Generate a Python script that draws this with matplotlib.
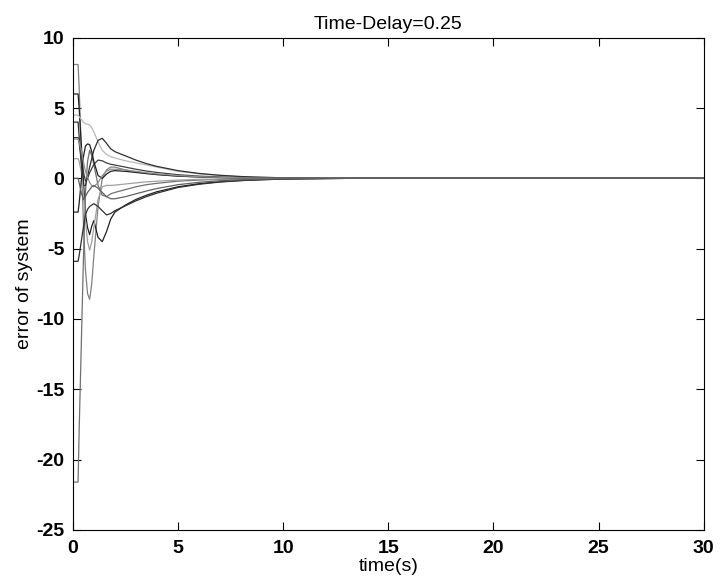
# -*- coding: utf-8 -*-
import matplotlib
matplotlib.use('Agg')
import matplotlib.pyplot as plt

plt.rcParams['font.family'] = ['Liberation Sans', 'DejaVu Sans']
plt.rcParams['axes.unicode_minus'] = False

# sample times (s)
t = [0, 0.25, 0.3, 0.4, 0.5, 0.6, 0.7, 0.8, 0.9, 1.0, 1.2, 1.4, 1.6, 1.8, 2.0, 2.5,
     3.0, 3.5, 4, 5, 6, 7, 8, 9, 10, 11, 13, 30]

# error trajectories
e1 = [8.1, 8.1, 6.5, 2.0, -3.0, -6.5, -8.2, -8.6, -7.5, -5.5, -2.0, 0.0, 0.6, 0.8, 0.8, 0.6,
      0.45, 0.35, 0.27, 0.16, 0.1, 0.06, 0.04, 0.02, 0.01, 0, 0, 0]
e2 = [6.0, 6.0, 5.0, 2.5, 0.0, -2.5, -3.5, -4.0, -3.4, -3.0, -4.2, -4.5, -3.8, -2.9, -2.4, -1.9,
      -1.5, -1.2, -0.95, -0.6, -0.38, -0.24, -0.15, -0.09, -0.05, -0.03, 0, 0]
e3 = [-21.6, -21.6, -18, -12, -6, -1, 1.2, 2.0, 1.6, 1.0, -0.5, -1.2, -1.3, -1.1, -1.0, -0.8,
      -0.6, -0.45, -0.35, -0.2, -0.12, -0.07, -0.04, -0.02, -0.01, 0, 0, 0]
e4 = [4.5, 4.5, 4.4, 4.2, 4.0, 3.9, 3.85, 3.8, 3.6, 3.3, 2.6, 2.0, 1.7, 1.55, 1.45, 1.25,
      1.1, 0.95, 0.8, 0.5, 0.32, 0.2, 0.12, 0.07, 0.04, 0.02, 0, 0]
e5 = [4.0, 4.0, 3.0, 1.0, -0.5, -0.5, 0.1, 0.8, 1.4, 2.0, 2.7, 2.85, 2.5, 2.1, 1.9, 1.6,
      1.3, 1.05, 0.85, 0.55, 0.35, 0.22, 0.13, 0.08, 0.04, 0.02, 0, 0]
e6 = [2.9, 2.9, 2.5, 1.5, 0.5, -0.2, 0.0, 0.4, 0.7, 1.0, 1.3, 1.25, 1.1, 1.0, 0.95, 0.8,
      0.65, 0.52, 0.42, 0.26, 0.16, 0.1, 0.06, 0.03, 0.02, 0.01, 0, 0]
e7 = [1.4, 1.4, 1.2, 0.5, -1.0, -3.0, -4.5, -5.1, -4.5, -3.5, -1.5, -0.6, -0.5, -0.5, -0.48, -0.4,
      -0.32, -0.25, -0.2, -0.12, -0.07, -0.04, -0.02, -0.01, 0, 0, 0, 0]
e8 = [-2.4, -2.4, -1.8, -0.2, 1.5, 2.3, 2.45, 2.4, 1.9, 1.2, 0.2, 0.0, 0.3, 0.5, 0.55, 0.5,
      0.42, 0.34, 0.27, 0.16, 0.1, 0.06, 0.03, 0.02, 0.01, 0, 0, 0]
e9 = [-5.9, -5.9, -5.5, -4.5, -3.5, -2.6, -2.2, -2.0, -1.9, -1.8, -2.0, -2.3, -2.6, -2.5, -2.3, -1.95,
      -1.6, -1.3, -1.05, -0.65, -0.42, -0.26, -0.16, -0.1, -0.05, -0.03, 0, 0]
e10 = [2.8, 2.8, 2.6, 2.0, 1.2, 0.5, 0.1, -0.3, -0.5, -0.6, -0.3, 0.2, 0.5, 0.65, 0.65, 0.6,
       0.5, 0.4, 0.32, 0.2, 0.12, 0.07, 0.04, 0.02, 0.01, 0, 0, 0]
e11 = [0, 0, -0.3, -1.0, -1.5, -1.3, -1.0, -0.8, -0.6, -0.5, -0.7, -1.0, -1.3, -1.45, -1.45, -1.3,
       -1.1, -0.9, -0.72, -0.45, -0.28, -0.17, -0.1, -0.06, -0.03, -0.02, 0, 0]

curves = [e1, e2, e3, e4, e5, e6, e7, e8, e9, e10, e11]
shades = ['#808080', '#202020', '#707070', '#b8b8b8', '#303030', '#404040',
          '#a0a0a0', '#202020', '#303030', '#909090', '#606060']

fig = plt.figure(figsize=(7.21, 5.81), dpi=100)
ax = fig.add_axes([0.101, 0.088, 0.875, 0.847])

for e, c in zip(curves, shades):
    ax.plot(t, e, '-', color=c, lw=0.9)

ax.set_xlim(0, 30)
ax.set_ylim(-25, 10)
ax.set_xticks(range(0, 31, 5))
ax.set_yticks(range(-25, 11, 5))
ax.tick_params(direction='in', top=True, right=True, length=6, labelsize=14)
ax.tick_params(axis='x', pad=7)
ax.tick_params(axis='y', pad=6)
for lab in ax.get_xticklabels() + ax.get_yticklabels():
    lab.set_fontweight('bold')
ax.set_xlabel('time(s)', fontsize=14, labelpad=1)
ax.set_ylabel('error of system', fontsize=14, labelpad=2)
ax.set_title('Time-Delay=0.25', fontsize=14, pad=6)

fig.savefig('out.png', dpi=100)
